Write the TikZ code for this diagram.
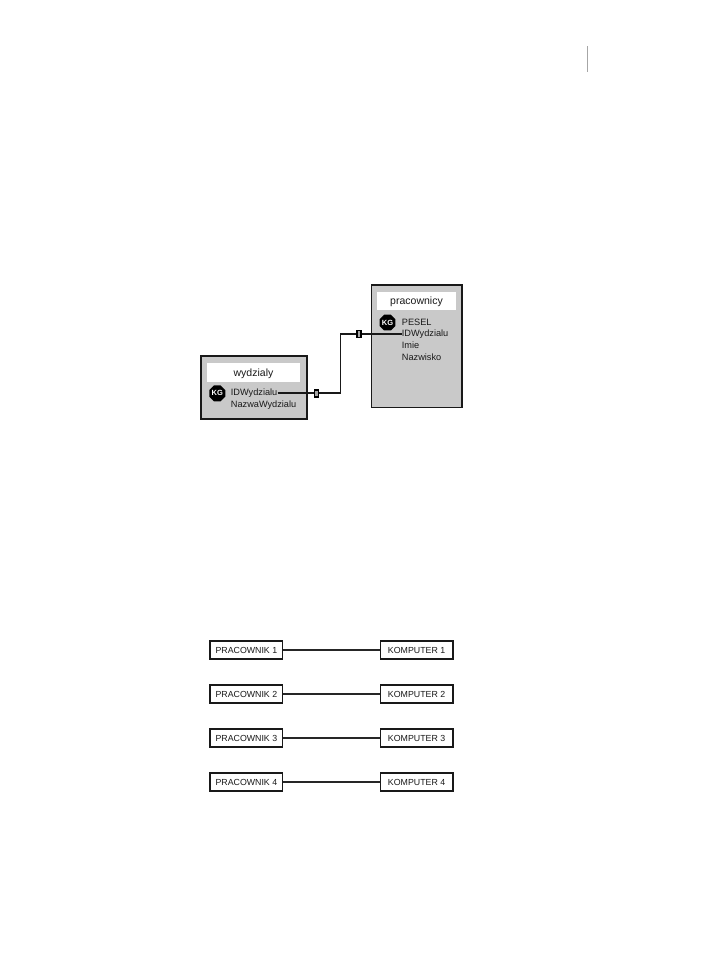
\documentclass[tikz,border=0pt]{standalone}
\usepackage{fontspec}
\setmainfont{Liberation Sans}
\usetikzlibrary{shapes.geometric}
\tikzset{
  x=1pt,y=-1pt,
  tablebox/.style={draw=black!90,line width=1.7pt,fill=black!21},
  titlebox/.style={fill=white,draw=none,inner sep=0pt,text depth=0pt,font=\fontsize{10.5}{12}\selectfont,text=black!90},
  field/.style={anchor=west,inner sep=0pt,font=\fontsize{9.2}{11}\selectfont,text=black!90},
  keybadge/.style={regular polygon,regular polygon sides=8,fill=black,text=white,inner sep=0pt,minimum size=16.5pt,font=\fontsize{7.5}{9}\selectfont\bfseries},
  relation/.style={draw=black!90,line width=1.1pt},
  endmark/.style={draw=black,line width=1.1pt,fill=black!35,inner sep=0pt,minimum width=4pt,minimum height=7pt},
  itembox/.style={draw=black!90,line width=1.5pt,fill=white,inner sep=0pt,minimum width=72.5pt,minimum height=18pt,font=\fontsize{8.8}{10}\selectfont,text=black!90},
  link/.style={draw=black!85,line width=1.1pt}
}
\begin{document}
\begin{tikzpicture}
\useasboundingbox (0,0) rectangle (723,978);
\fill[white] (0,0) rectangle (723,978);

% page margin rule
\coordinate (ruletop) at (587.5,46);
\coordinate (rulebot) at (587.5,72);
\draw[black!35,line width=0.9pt] (ruletop) -- (rulebot);

% employees table
\node[tablebox,minimum width=90.5pt,minimum height=122.5pt,inner sep=0pt] (prac) at (416.8,346.3) {};
\node[titlebox,minimum width=79pt,minimum height=18.5pt] (pract) at (416.5,301) {pracownicy};
\node[keybadge] (pkey) at (387.5,322.5) {KG};
\node[field] (ppesel) at (401.7,322) {PESEL};
\node[field] (pid) at (401.7,334) {IDWydzialu};
\node[field] (pimie) at (401.7,345.5) {Imie};
\node[field] (pnazw) at (401.7,357) {Nazwisko};

% departments table
\node[tablebox,minimum width=106.5pt,minimum height=63pt,inner sep=0pt] (wydz) at (253.9,387.7) {};
\node[titlebox,minimum width=93pt,minimum height=18.5pt] (wydzt) at (253.5,372.3) {wydzialy};
\node[keybadge] (wkey) at (217.3,393.3) {KG};
\node[field] (wid) at (230.7,393) {IDWydzialu};
\node[field] (wnazwa) at (230.7,405) {NazwaWydzialu};

% relation between the two ID fields
\coordinate (bend) at (340.7,363);
\draw[relation] (wid.east) -- (wid.east -| bend) -- (pid.west -| bend) -- (pid.west);
\node[endmark] (wend) at (316.7,393.5) {};
\node[endmark] (pend) at (359,334) {};

% one-to-one pairs
\foreach \n/\y in {1/650,2/694,3/738,4/782}{
  \node[itembox] (emp\n) at (246.4,\y) {PRACOWNIK \n};
  \node[itembox] (comp\n) at (416.6,\y) {KOMPUTER \n};
  \draw[link] (emp\n) -- (comp\n);
}
\end{tikzpicture}
\end{document}
